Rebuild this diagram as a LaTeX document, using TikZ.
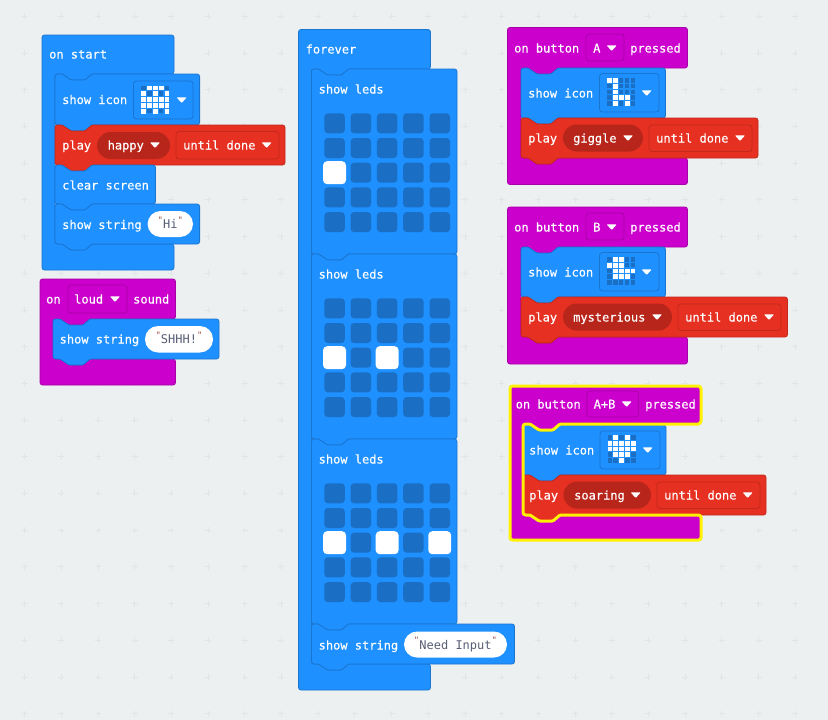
\documentclass[tikz,border=0pt]{standalone}
\usepackage{fontspec}
\usepackage{tikz}
\usetikzlibrary{positioning}
\newfontfamily\blockfont[FakeBold=0.35]{DejaVu Sans Mono}
\newfontfamily\stringfont{DejaVu Sans Mono}
\definecolor{pagebg}{HTML}{ECF0F1}
\definecolor{gridmark}{HTML}{E1E5E7}
\definecolor{bluefill}{HTML}{1E90FF}
\definecolor{blueedge}{HTML}{1A75CF}
\definecolor{ledoff}{HTML}{1A6FC4}
\definecolor{redfill}{HTML}{E63022}
\definecolor{rededge}{HTML}{C2281C}
\definecolor{redpill}{HTML}{B8261B}
\definecolor{purplefill}{HTML}{CC00CC}
\definecolor{purpleedge}{HTML}{A600A6}
\definecolor{glow}{HTML}{FFF200}
\definecolor{strtext}{HTML}{575E75}
\definecolor{strquote}{HTML}{A0554F}
\tikzset{
    blue block/.style={draw=blueedge,fill=bluefill,line width=0.8pt,rounded corners=2.5pt},
    red block/.style={draw=rededge,fill=redfill,line width=0.8pt,rounded corners=2.5pt},
    purple block/.style={draw=purpleedge,fill=purplefill,line width=0.8pt,rounded corners=2.5pt},
    blue field/.style={draw=blueedge,fill=bluefill,line width=0.8pt,rounded corners=3pt},
    red field/.style={draw=rededge,fill=redfill,line width=0.8pt,rounded corners=3pt},
    purple field/.style={draw=purpleedge,fill=purplefill,line width=0.8pt,rounded corners=3pt},
    red pill/.style={fill=redpill,rounded corners=13.5pt},
    white pill/.style={fill=white,rounded corners=13pt},
    blocktext/.style={text=white,font=\blockfont\fontsize{12}{14}\selectfont,anchor=west,inner sep=0pt,text height=10.5pt,text depth=1.5pt},
    strtext/.style={text=strtext,font=\stringfont\fontsize{12}{14}\selectfont,inner sep=0pt,text height=10.5pt,text depth=1.5pt},
    strquote/.style={text=strquote,font=\stringfont\fontsize{9}{10}\selectfont,inner sep=0pt,anchor=north},
    led off/.style={fill=ledoff,rounded corners=3.5pt},
    led on/.style={fill=white,rounded corners=4pt},
    selected/.style={draw=glow,line width=3pt,rounded corners=3pt},
}
% statement block: x1 x2 y1 y2 style
\newcommand{\stmt}[5]{
    \draw[#5] (#1,#3) [rounded corners=1pt] -- (#1+7,#3) -- (#1+16,#3+6) -- (#1+30,#3+6) -- (#1+37,#3)
    [rounded corners=2.5pt] -- (#2,#3) -- (#2,#4) [rounded corners=1pt] -- (#1+37,#4) -- (#1+30,#4+6) -- (#1+16,#4+6) -- (#1+7,#4)
    [rounded corners=2.5pt] -- (#1,#4) -- cycle;
}
% outline of a C block: x1 x2 y1 y2 inner-x mouth-top mouth-bottom
\newcommand{\mouthpath}[7]{
    (#1,#3) -- (#2,#3) -- (#2,#6) [rounded corners=1pt] -- (#5+37,#6) -- (#5+30,#6+6) -- (#5+16,#6+6) -- (#5+7,#6)
    [rounded corners=2.5pt] -- (#5,#6) -- (#5,#7) [rounded corners=1pt] -- (#5+7,#7) -- (#5+16,#7+6) -- (#5+30,#7+6) -- (#5+37,#7)
    [rounded corners=2.5pt] -- (#2,#7) -- (#2,#4) -- (#1,#4) -- cycle
}
\newcommand{\tag}[4]{\node[blocktext] (#1) at (#2,#3) {#4};}
\newcommand{\droparrow}[2]{\fill[white,rounded corners=0.7pt] (#1-5,#2-2.6) -- (#1+5,#2-2.6) -- (#1,#2+3) -- cycle;}
% small icon: field corner, then the lit cells as col/row
\newcommand{\iconleds}[3]{
    \foreach \c in {0,...,4}
        \foreach \r in {0,...,4}
            \fill[ledoff] ({#1+5.9*\c},{#2+5.8*\r}) rectangle ++(4.6,4.6);
    \foreach \c/\r in {#3}
        \fill[white] ({#1+5.9*\c},{#2+5.8*\r}) rectangle ++(4.8,4.8);
}
% big led grid: top edge, then the lit cells as col/row
\newcommand{\bigleds}[2]{
    \foreach \c in {0,...,4}
        \foreach \r in {0,...,4}
            \path[led off] ({324.3+26.3*\c},{#1+24.7*\r}) rectangle ++(20.5,20);
    \foreach \c/\r in {#2}
        \path[led on] ({324.3+26.3*\c-1.2},{#1+24.7*\r-1.5}) rectangle ++(22.9,23);
}
% string field: name x1 x2 y1 y2 text
\newcommand{\strfield}[6]{
    \path[white pill] (#2,#4) rectangle (#3,#5);
    \node[strtext] (#1) at ({(#2+#3)/2},{(#4+#5)/2}) {#6};
    \node[strquote,xshift=-2.5pt,yshift=1.5pt] (#1l) at (#1.north west) {"};
    \node[strquote,xshift=2.5pt,yshift=1.5pt] (#1r) at (#1.north east) {"};
}
\begin{document}
\begin{tikzpicture}[x=1pt,y=-1pt]
    \useasboundingbox (0,0) rectangle (828,720);
    \fill[pagebg] (0,0) rectangle (828,720);
    \foreach \i in {0,...,21}
        \foreach \j in {0,...,19} {
            \pgfmathsetmacro{\gx}{24.5+36.7*\i}
            \pgfmathsetmacro{\gy}{16.3+36.7*\j}
            \draw[gridmark,line width=0.7pt] (\gx-3,\gy) -- (\gx+3,\gy) (\gx,\gy-3) -- (\gx,\gy+3);
        }

    \draw[blue block] \mouthpath{42}{174}{35}{270}{55}{74}{244};
    \tag{onstart}{49}{54}{on start}
    \stmt{55}{199.6}{74}{125}{blue block}
    \tag{iconghost}{62}{99.5}{show icon}
    \draw[blue field] (133.5,81) rectangle (193,119);
    \iconleds{141}{85.5}{1/0,2/0,3/0,0/1,2/1,4/1,0/2,1/2,2/2,3/2,4/2,0/3,1/3,2/3,3/3,4/3,0/4,2/4,4/4}
    \droparrow{181.7}{100}
    \stmt{55}{285}{125}{165}{red block}
    \tag{playhappy}{62}{145}{play}
    \path[red pill] (97,132) rectangle (170,159);
    \tag{happy}{107.5}{145}{happy}
    \droparrow{155}{145}
    \draw[red field] (176,131.5) rectangle (279,159);
    \tag{untilhappy}{183}{145}{until done}
    \droparrow{266.7}{145}
    \stmt{55}{155.5}{165}{204}{blue block}
    \tag{clearscreen}{62}{185}{clear screen}
    \stmt{55}{199.6}{204}{244}{blue block}
    \tag{stringhi}{62}{224.5}{show string}
    \strfield{hi}{147.6}{193}{211}{237}{Hi}

    \draw[purple block] \mouthpath{40}{175.5}{279}{385}{53}{319}{359};
    \tag{on}{46}{299}{on}
    \draw[purple field] (68,285) rectangle (127,313);
    \tag{loud}{74}{299}{loud}
    \droparrow{115}{299}
    \tag{sound}{133}{299}{sound}
    \stmt{53}{219}{319}{359}{blue block}
    \tag{stringshh}{59.5}{339}{show string}
    \strfield{shh}{145}{213}{326}{352.5}{SHHH!}

    \draw[blue block] \mouthpath{298.5}{430.5}{29.5}{690}{311.5}{69}{664};
    \tag{forever}{305.5}{49}{forever}
    \stmt{311.5}{457}{69}{254}{blue block}
    \tag{ledsone}{318.5}{89}{show leds}
    \bigleds{113.3}{0/2}
    \stmt{311.5}{457}{254}{439}{blue block}
    \tag{ledstwo}{318.5}{274}{show leds}
    \bigleds{298.3}{0/2,2/2}
    \stmt{311.5}{457}{439}{624}{blue block}
    \tag{ledsthree}{318.5}{459}{show leds}
    \bigleds{483.3}{0/2,2/2,4/2}
    \stmt{311.5}{514.5}{624}{664}{blue block}
    \tag{stringneed}{318.5}{645}{show string}
    \strfield{need}{404}{507}{631.5}{657.5}{Need Input}

    \draw[purple block] \mouthpath{507.5}{687.5}{27.5}{184.5}{521}{68}{158};
    \tag{buttona}{514}{48}{on button}
    \draw[purple field] (586,34) rectangle (624,61);
    \tag{keya}{593}{48}{A}
    \droparrow{611.7}{48}
    \tag{presseda}{630}{48}{pressed}
    \stmt{521}{665.5}{68}{118}{blue block}
    \tag{icongiraffe}{528}{93}{show icon}
    \draw[blue field] (599.5,73.5) rectangle (659,112);
    \iconleds{607}{78}{0/0,1/0,1/1,1/2,1/3,2/3,3/3,1/4,3/4}
    \droparrow{646.7}{93}
    \stmt{521}{758}{118}{158}{red block}
    \tag{playgiggle}{528}{138}{play}
    \path[red pill] (563,124.5) rectangle (643,151.5);
    \tag{giggle}{573}{138}{giggle}
    \droparrow{628}{138}
    \draw[red field] (649,125) rectangle (752,151.5);
    \tag{untilgiggle}{656}{138}{until done}
    \droparrow{740}{138}

    \draw[purple block] \mouthpath{507.5}{687.5}{207}{364}{521}{247}{337};
    \tag{buttonb}{514}{227}{on button}
    \draw[purple field] (586,213) rectangle (624,240);
    \tag{keyb}{593}{227}{B}
    \droparrow{611.7}{227}
    \tag{pressedb}{630}{227}{pressed}
    \stmt{521}{665.5}{247}{297}{blue block}
    \tag{iconduck}{528}{272}{show icon}
    \draw[blue field] (599.5,252.5) rectangle (659,291);
    \iconleds{607}{257}{1/0,2/0,0/1,1/1,2/1,1/2,2/2,3/2,4/2,1/3,2/3,3/3}
    \droparrow{646.7}{272}
    \stmt{521}{787.5}{297}{337}{red block}
    \tag{playmyst}{528}{317}{play}
    \path[red pill] (563,303.5) rectangle (672,330.5);
    \tag{myst}{573}{317}{mysterious}
    \droparrow{657}{317}
    \draw[red field] (678,304) rectangle (781,330.5);
    \tag{untilmyst}{685}{317}{until done}
    \droparrow{769}{317}

    \draw[purple block] \mouthpath{510}{701}{386}{540}{523}{424}{515};
    \tag{buttonab}{515.5}{404}{on button}
    \draw[purple field] (587,391) rectangle (638.5,417);
    \tag{keyab}{593.5}{404}{A+B}
    \droparrow{626.7}{404}
    \tag{pressedab}{645}{404}{pressed}
    \stmt{523}{666}{425}{475}{blue block}
    \tag{iconheart}{529}{450}{show icon}
    \draw[blue field] (600,431) rectangle (660,469);
    \iconleds{607.5}{435}{1/0,3/0,0/1,1/1,2/1,3/1,4/1,0/2,1/2,2/2,3/2,4/2,1/3,2/3,3/3,2/4}
    \droparrow{647.7}{450}
    \stmt{523}{766}{475}{515}{red block}
    \tag{playsoar}{529}{495}{play}
    \path[red pill] (563.5,481.5) rectangle (651,508.5);
    \tag{soar}{574}{495}{soaring}
    \droparrow{635.7}{495}
    \draw[red field] (657,482) rectangle (760,508.5);
    \tag{untilsoar}{664}{495}{until done}
    \droparrow{747.7}{495}
    \draw[selected] \mouthpath{510}{701}{386}{540}{523}{424}{515};
\end{tikzpicture}
\end{document}
